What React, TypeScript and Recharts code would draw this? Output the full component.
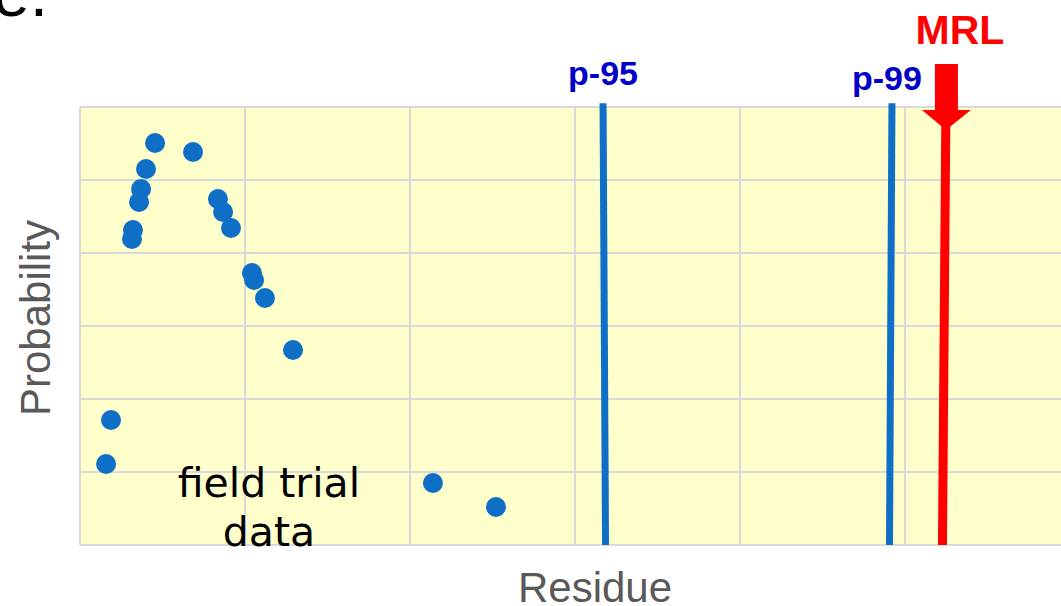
import {
  ScatterChart,
  Scatter,
  XAxis,
  YAxis,
  CartesianGrid,
  ReferenceLine,
  ReferenceDot,
} from 'recharts'

// field trial residues (x) and their probability (y)
const residues = [0.158, 0.188, 0.315, 0.321, 0.358, 0.37, 0.4, 0.455, 0.685, 0.836, 0.867, 0.915, 1.042, 1.055, 1.121, 1.291, 2.139, 2.521]
const probabilities = [1.11, 1.712, 4.192, 4.315, 4.699, 4.877, 5.151, 5.507, 5.384, 4.74, 4.562, 4.342, 3.726, 3.63, 3.384, 2.671, 0.849, 0.521]

// the three thresholds; the drawn lines lean a little, so top and bottom differ
const thresholdNames = ['p-95', 'p-99', 'MRL']
const thresholdTop = [3.17, 4.921, 5.248]
const thresholdBottom = [3.185, 4.906, 5.227]

const gridTicks = [0, 1, 2, 3, 4, 5, 6]

const points = residues.map((r, i) => ({ residue: r, probability: probabilities[i] }))

const ARIAL = '"Liberation Sans", Arial, sans-serif'
const DOT_BLUE = '#0f6fc6'
const LABEL_BLUE = '#0000c8'

const Dot = (props: any) => <circle cx={props.cx} cy={props.cy} r={10} fill={DOT_BLUE} />
const NoTick = () => <g />

const PercentileLabel = (props: any) => {
  const { cx, cy, name, dx, dy } = props
  return (
    <text x={cx + dx} y={cy + dy} textAnchor="middle" fontFamily={ARIAL} fontWeight="bold" fontSize={34} fill={LABEL_BLUE}>
      {name}
    </text>
  )
}

const MrlArrow = (props: any) => {
  const { cx, cy } = props
  return (
    <g>
      <rect x={cx - 11} y={cy - 43} width={23} height={47} fill="#ff0000" />
      <polygon points={`${cx - 24},${cy + 3} ${cx + 25},${cy + 3} ${cx},${cy + 23}`} fill="#ff0000" />
      <text x={cx + 14} y={cy - 63} textAnchor="middle" fontFamily={ARIAL} fontWeight="bold" fontSize={41} fill="#ff0000">
        MRL
      </text>
    </g>
  )
}

const FieldTrialNote = (props: any) => {
  const { cx, cy } = props
  return (
    <text x={cx} y={cy} textAnchor="middle" fontFamily='"DejaVu Sans", sans-serif' fontSize={41} fill="#000">
      <tspan x={cx} dy={0}>field trial</tspan>
      <tspan x={cx} dy={49}>data</tspan>
    </text>
  )
}

const ResidueLabel = (props: any) => {
  const { viewBox } = props
  return (
    <text x={viewBox.x + viewBox.width / 2 + 20} y={viewBox.y + 57} textAnchor="middle" fontFamily={ARIAL} fontSize={42} fill="#595959">
      Residue
    </text>
  )
}

const ProbabilityLabel = (props: any) => {
  const { viewBox } = props
  const x = viewBox.x + 50
  const y = viewBox.y + viewBox.height / 2 - 8
  return (
    <text x={x} y={y} transform={`rotate(-90 ${x} ${y})`} textAnchor="middle" fontFamily={ARIAL} fontSize={42} fill="#595959">
      Probability
    </text>
  )
}

export default function App() {
  return (
    <div style={{ position: 'absolute', left: 0, top: 0, width: 1061, height: 606, overflow: 'hidden', background: '#fff' }}>
      <svg width={120} height={40} style={{ position: 'absolute', left: 0, top: 0 }}>
        <text x={-7} y={16} fontFamily={ARIAL} fontSize={66} fill="#000">
          e.
        </text>
      </svg>
      <ScatterChart width={1100} height={606} margin={{ top: 107, right: 30, bottom: 0, left: 0 }}>
        <CartesianGrid fill="#ffffcc" fillOpacity={1} stroke="#d9d9d9" strokeWidth={2} />
        <XAxis
          type="number"
          dataKey="residue"
          domain={[0, 6]}
          ticks={gridTicks}
          interval={0}
          height={61}
          tick={NoTick}
          axisLine={false}
          tickLine={false}
          label={{ content: ResidueLabel }}
        />
        <YAxis
          type="number"
          dataKey="probability"
          domain={[0, 6]}
          ticks={gridTicks}
          interval={0}
          width={80}
          tick={NoTick}
          axisLine={false}
          tickLine={false}
          label={{ content: ProbabilityLabel }}
        />
        <Scatter data={points} fill={DOT_BLUE} shape={Dot} isAnimationActive={false} />
        {thresholdNames.map((name, i) => (
          <ReferenceLine
            key={name}
            segment={[
              { x: thresholdTop[i], y: name === 'MRL' ? 6 : 6.05 },
              { x: thresholdBottom[i], y: 0 },
            ]}
            stroke={name === 'MRL' ? '#ff0000' : DOT_BLUE}
            strokeWidth={name === 'MRL' ? 9 : 7}
            ifOverflow="visible"
          />
        ))}
        <ReferenceDot x={thresholdTop[0]} y={6} shape={(p: any) => <PercentileLabel {...p} name={thresholdNames[0]} dx={0} dy={-22} />} />
        <ReferenceDot x={thresholdTop[1]} y={6} shape={(p: any) => <PercentileLabel {...p} name={thresholdNames[1]} dx={-5} dy={-17} />} />
        <ReferenceDot x={thresholdTop[2]} y={6} shape={MrlArrow} />
        <ReferenceDot x={1.145} y={0.66} shape={FieldTrialNote} />
      </ScatterChart>
    </div>
  )
}
